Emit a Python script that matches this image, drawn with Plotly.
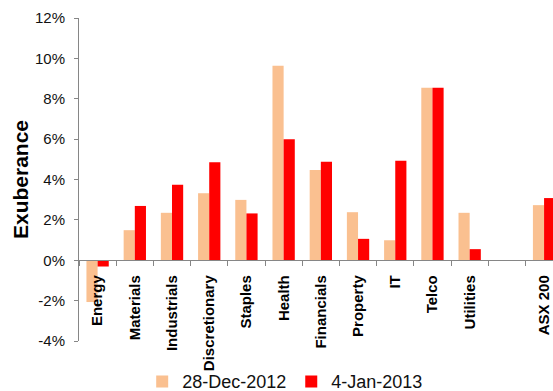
import plotly.graph_objects as go

categories = ["Energy", "Materials", "Industrials", "Discretionary", "Staples", "Health",
              "Financials", "Property", "IT", "Telco", "Utilities", " ", "ASX 200"]
dec_2012 = [-2.07, 1.49, 2.35, 3.32, 2.99, 9.64, 4.47, 2.38, 0.99, 8.54, 2.35, None, 2.73]
jan_2013 = [-0.31, 2.69, 3.74, 4.85, 2.32, 6.00, 4.88, 1.06, 4.93, 8.55, 0.55, None, 3.08]
series_names = ["28-Dec-2012", "4-Jan-2013"]
y_ticks = [-4, -2, 0, 2, 4, 6, 8, 10, 12]
y_tick_labels = [f"{v}%" for v in y_ticks]

FONT = "Liberation Sans, Arial, sans-serif"
AXIS = "#868686"

fig = go.Figure()
fig.add_trace(go.Bar(x=categories, y=dec_2012, name=series_names[0],
                     marker=dict(color="#FAC090", line=dict(width=0))))
fig.add_trace(go.Bar(x=categories, y=jan_2013, name=series_names[1],
                     marker=dict(color="#FF0000", line=dict(width=0))))

fig.update_layout(
    width=553, height=391,
    margin=dict(l=79, r=0, t=18, b=50, autoexpand=False),
    paper_bgcolor="white", plot_bgcolor="white",
    barmode="group", bargap=0.4, bargroupgap=0,
    font=dict(family=FONT, color="#111111"),
    legend=dict(orientation="h", x=0.435, y=-0.126, xanchor="center", yanchor="middle",
                font=dict(size=18, family=FONT, color="#111111"),
                itemwidth=30, tracegroupgap=0, bgcolor="rgba(0,0,0,0)"),
    xaxis=dict(
        type="category", range=[-0.5, 12.24],
        anchor="free", position=0.25,
        showline=True, linecolor=AXIS, linewidth=1,
        ticks="outside", tickson="boundaries", ticklen=5, tickcolor=AXIS,
        tickangle=-90, ticklabelstandoff=8,
        tickfont=dict(size=15, family=FONT, color="#000000", weight="bold"),
        showgrid=False, zeroline=False, automargin=False,
    ),
    yaxis=dict(
        range=[-4, 12], tickmode="array", tickvals=y_ticks, ticktext=y_tick_labels,
        showline=True, linecolor=AXIS, linewidth=1,
        ticks="outside", ticklen=4, tickcolor=AXIS, ticklabelstandoff=6,
        tickfont=dict(size=15, family=FONT, color="#111111"),
        showgrid=False, zeroline=False, automargin=False,
        title=dict(text="<b>Exuberance</b>", font=dict(size=21, family=FONT, color="#000000"),
                   standoff=0),
    ),
)

fig.write_html("out.html")
